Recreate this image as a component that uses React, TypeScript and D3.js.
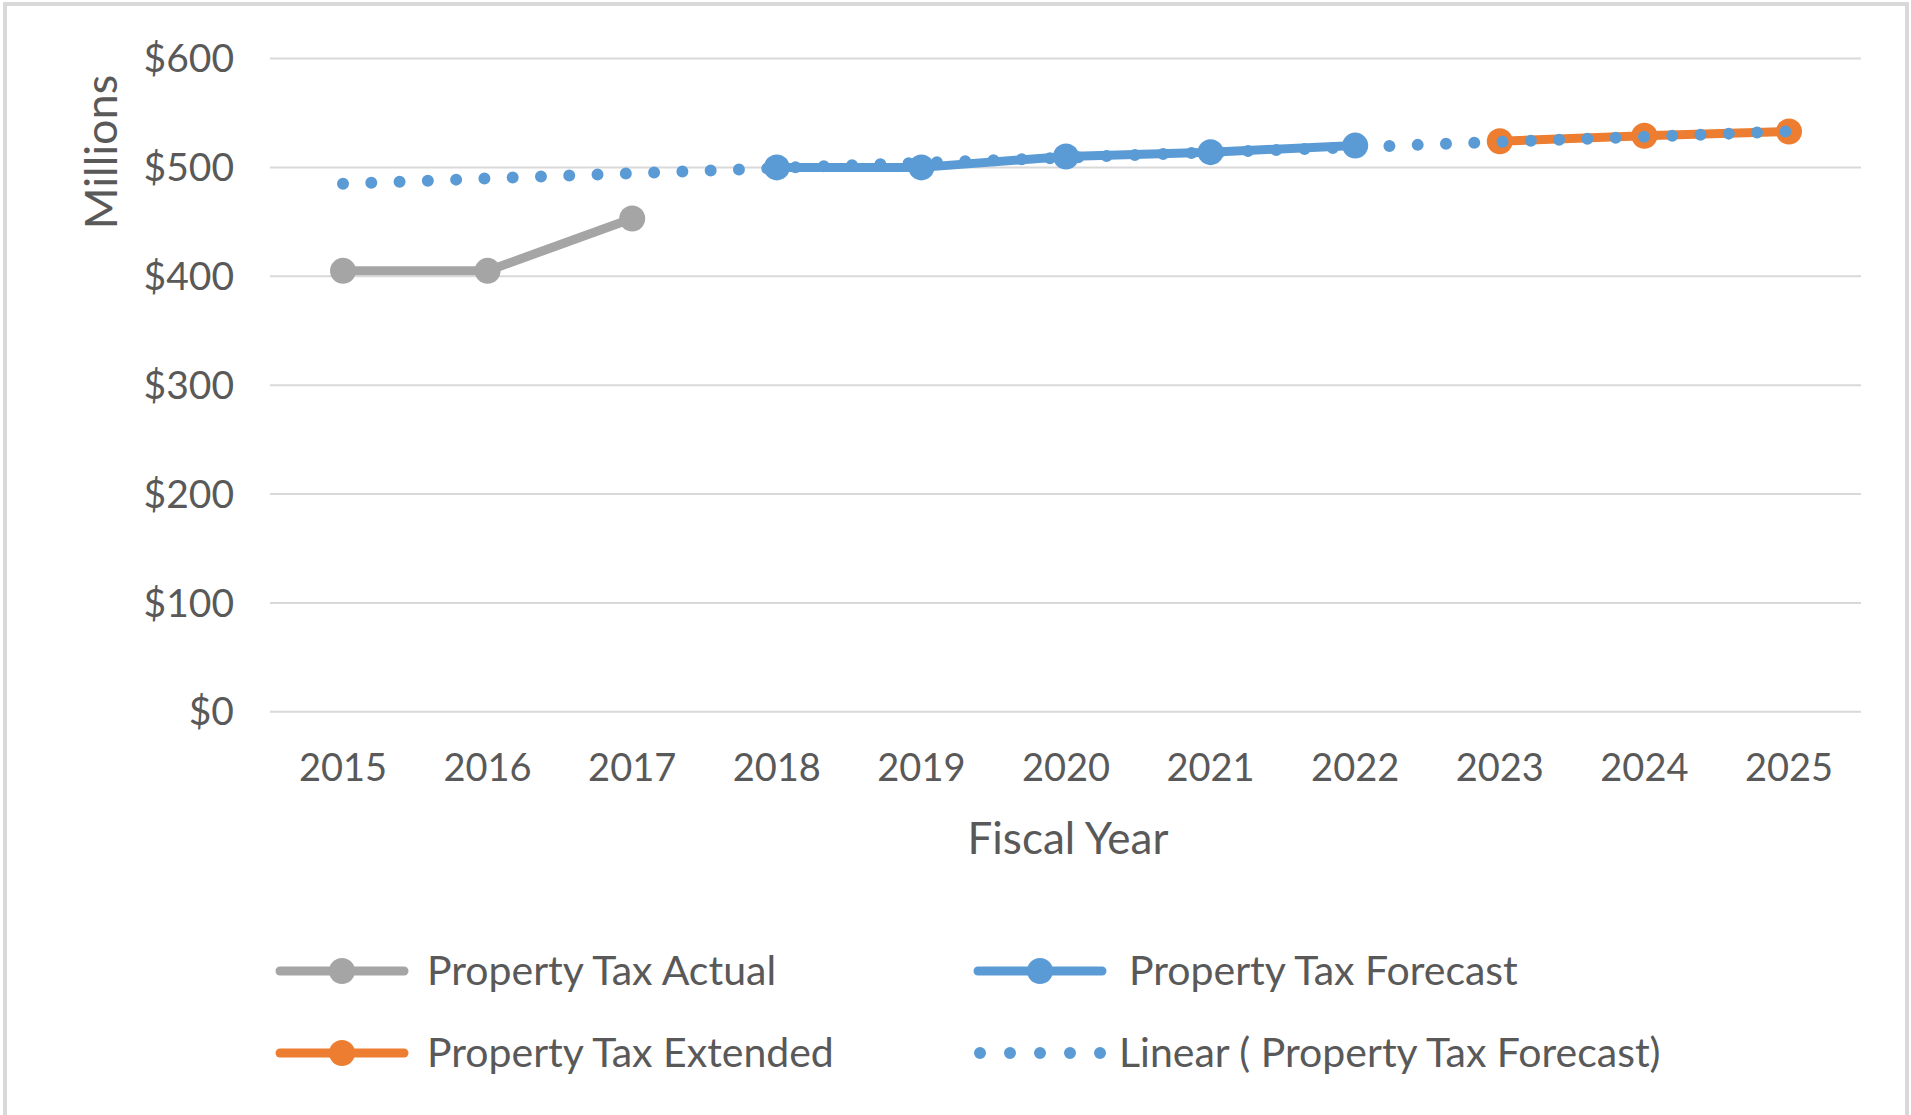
import React from "react";
import * as d3 from "d3";

const years = ["2015", "2016", "2017", "2018", "2019", "2020", "2021", "2022", "2023", "2024", "2025"];
const yTicks = [0, 100, 200, 300, 400, 500, 600];
const actualYears = ["2015", "2016", "2017"];
const actualValues = [405, 405, 453];
const forecastYears = ["2018", "2019", "2020", "2021", "2022"];
const forecastValues = [500, 500, 510, 514, 520];
const extendedYears = ["2023", "2024", "2025"];
const extendedValues = [524, 529, 533];
const trendYears = ["2015", "2025"];
const trendValues = [485, 533];

const legendItems = [
  { label: "Property Tax Actual", color: "#A5A5A5", kind: "marker" },
  { label: "Property Tax Forecast", color: "#5B9BD5", kind: "marker" },
  { label: "Property Tax Extended", color: "#ED7D31", kind: "marker" },
  { label: "Linear ( Property Tax Forecast)", color: "#5B9BD5", kind: "dots" },
];

const W = 1911;
const H = 1115;
const FONT = "Lato, 'Open Sans', sans-serif";
const TEXT = "#595959";

export default function App() {
  const x = d3.scalePoint<string>().domain(years).range([343, 1789]);
  const y = d3.scaleLinear().domain([0, 600]).range([711.8, 58.5]);
  const line = d3
    .line<[string, number]>()
    .x((d) => x(d[0]) as number)
    .y((d) => y(d[1]));

  const series = [
    { yrs: actualYears, vals: actualValues, color: "#A5A5A5" },
    { yrs: forecastYears, vals: forecastValues, color: "#5B9BD5" },
    { yrs: extendedYears, vals: extendedValues, color: "#ED7D31" },
  ];

  const legendPos = [
    { x: 280, y: 971, tx: 427 },
    { x: 978, y: 971, tx: 1129 },
    { x: 280, y: 1053, tx: 427 },
    { x: 978, y: 1053, tx: 1119 },
  ];

  return (
    <svg
      width={W}
      height={H}
      style={{ position: "absolute", left: 0, top: 0, background: "#fff" }}
      fontFamily={FONT}
    >
      <rect x={0} y={0} width={W} height={H} fill="#fff" />
      <rect x={5} y={4} width={W - 9} height={H} fill="none" stroke="#D9D9D9" strokeWidth={4} />
      {yTicks.map((t) => (
        <g key={t}>
          <line x1={270} x2={1861} y1={y(t)} y2={y(t)} stroke="#D9D9D9" strokeWidth={2} />
          <text x={234} y={y(t)} dy="0.35em" textAnchor="end" fontSize={39} fill={TEXT}>
            {"$" + t}
          </text>
        </g>
      ))}
      {years.map((yr) => (
        <text key={yr} x={x(yr)} y={781} textAnchor="middle" fontSize={38} fill={TEXT}>
          {yr}
        </text>
      ))}
      <text x={1068} y={854} textAnchor="middle" fontSize={44} fill={TEXT}>
        Fiscal Year
      </text>
      <text
        transform={`translate(117,152) rotate(-90)`}
        textAnchor="middle"
        fontSize={45}
        fill={TEXT}
      >
        Millions
      </text>
      {series.map((s, i) => {
        const pts = s.yrs.map((yr, j) => [yr, s.vals[j]] as [string, number]);
        return (
          <g key={i}>
            <path d={line(pts) as string} fill="none" stroke={s.color} strokeWidth={9} strokeLinejoin="round" />
            {pts.map((p, j) => (
              <circle key={j} cx={x(p[0])} cy={y(p[1])} r={13} fill={s.color} />
            ))}
          </g>
        );
      })}
      <path
        d={line(trendYears.map((yr, j) => [yr, trendValues[j]] as [string, number])) as string}
        fill="none"
        stroke="#5B9BD5"
        strokeWidth={12}
        strokeLinecap="round"
        strokeDasharray="0 28.3"
      />
      {legendItems.map((it, i) => {
        const p = legendPos[i];
        return (
          <g key={i}>
            {it.kind === "marker" ? (
              <g>
                <line x1={p.x} x2={p.x + 124} y1={p.y} y2={p.y} stroke={it.color} strokeWidth={9} strokeLinecap="round" />
                <circle cx={p.x + 62} cy={p.y} r={13} fill={it.color} />
              </g>
            ) : (
              <line
                x1={p.x + 2}
                x2={p.x + 124}
                y1={p.y}
                y2={p.y}
                stroke={it.color}
                strokeWidth={12}
                strokeLinecap="round"
                strokeDasharray="0 30"
              />
            )}
            <text x={p.tx} y={p.y} dy="0.35em" fontSize={41} fill={TEXT}>
              {it.label}
            </text>
          </g>
        );
      })}
    </svg>
  );
}
